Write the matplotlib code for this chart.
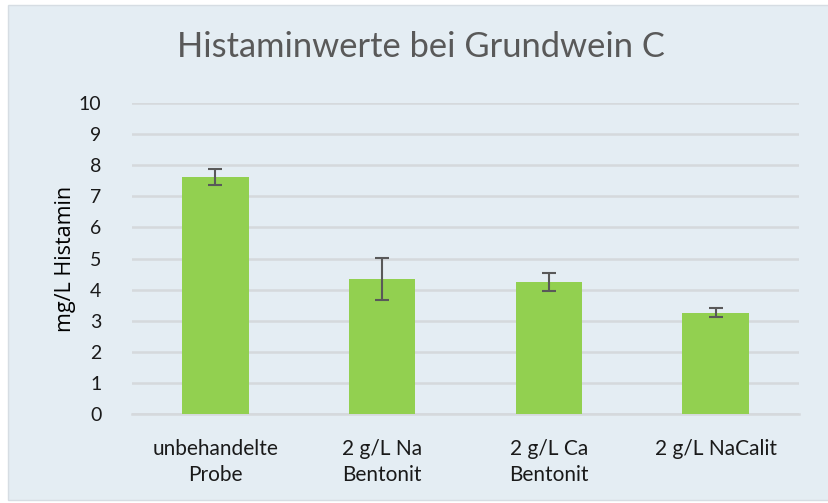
import matplotlib.pyplot as plt
from matplotlib.patches import Rectangle

categories = ['unbehandelte\nProbe', '2 g/L Na\nBentonit', '2 g/L Ca\nBentonit', '2 g/L NaCalit']
values = [7.62, 4.35, 4.25, 3.26]
errors = [0.27, 0.68, 0.29, 0.14]
yticks = list(range(0, 11))

fig = plt.figure(figsize=(8.29, 5.03), dpi=100)
fig.patch.set_facecolor('white')
# Hintergrund des Diagrammbereichs
fig.patches.append(Rectangle((8 / 829, 3 / 503), 821 / 829, 495 / 503,
                             transform=fig.transFigure, facecolor='#E4EDF3',
                             edgecolor='#D6DDE3', linewidth=1, zorder=-10))

ax = fig.add_axes([132 / 829, 89 / 503, 667 / 829, 311 / 503])
ax.set_facecolor('none')

x = range(len(categories))
ax.bar(x, values, width=0.4, color='#92D050', zorder=3)
ax.errorbar(x, values, yerr=errors, fmt='none', ecolor='#595959',
            elinewidth=1.5, capsize=5, capthick=1.5, zorder=4)

ax.set_xlim(-0.5, len(categories) - 0.5)
ax.set_ylim(0, 10)
ax.set_yticks(yticks)
ax.yaxis.grid(True, color='#D5D9DC', linewidth=1.8, zorder=1)
ax.set_axisbelow(True)
for s in ['top', 'right', 'left']:
    ax.spines[s].set_visible(False)
ax.spines['bottom'].set_color('#D5D9DC')
ax.spines['bottom'].set_linewidth(1.8)
ax.tick_params(axis='both', length=0, colors='#1A1A1A')
ax.tick_params(axis='y', pad=22, labelsize=14)
ax.tick_params(axis='x', pad=18, labelsize=15)
ax.set_xticks(list(x))
ax.set_xticklabels(categories, family='Lato', linespacing=1.35)
for lbl in ax.get_yticklabels():
    lbl.set_family('Lato')

ax.set_ylabel('mg/L Histamin', fontsize=15.5, color='black', family='Open Sans',
              labelpad=2)
fig.text(0.508, 0.907, 'Histaminwerte bei Grundwein C', ha='center', va='center',
         fontsize=24.8, color='#595959', family='Lato')

fig.savefig('out.png', dpi=100)
